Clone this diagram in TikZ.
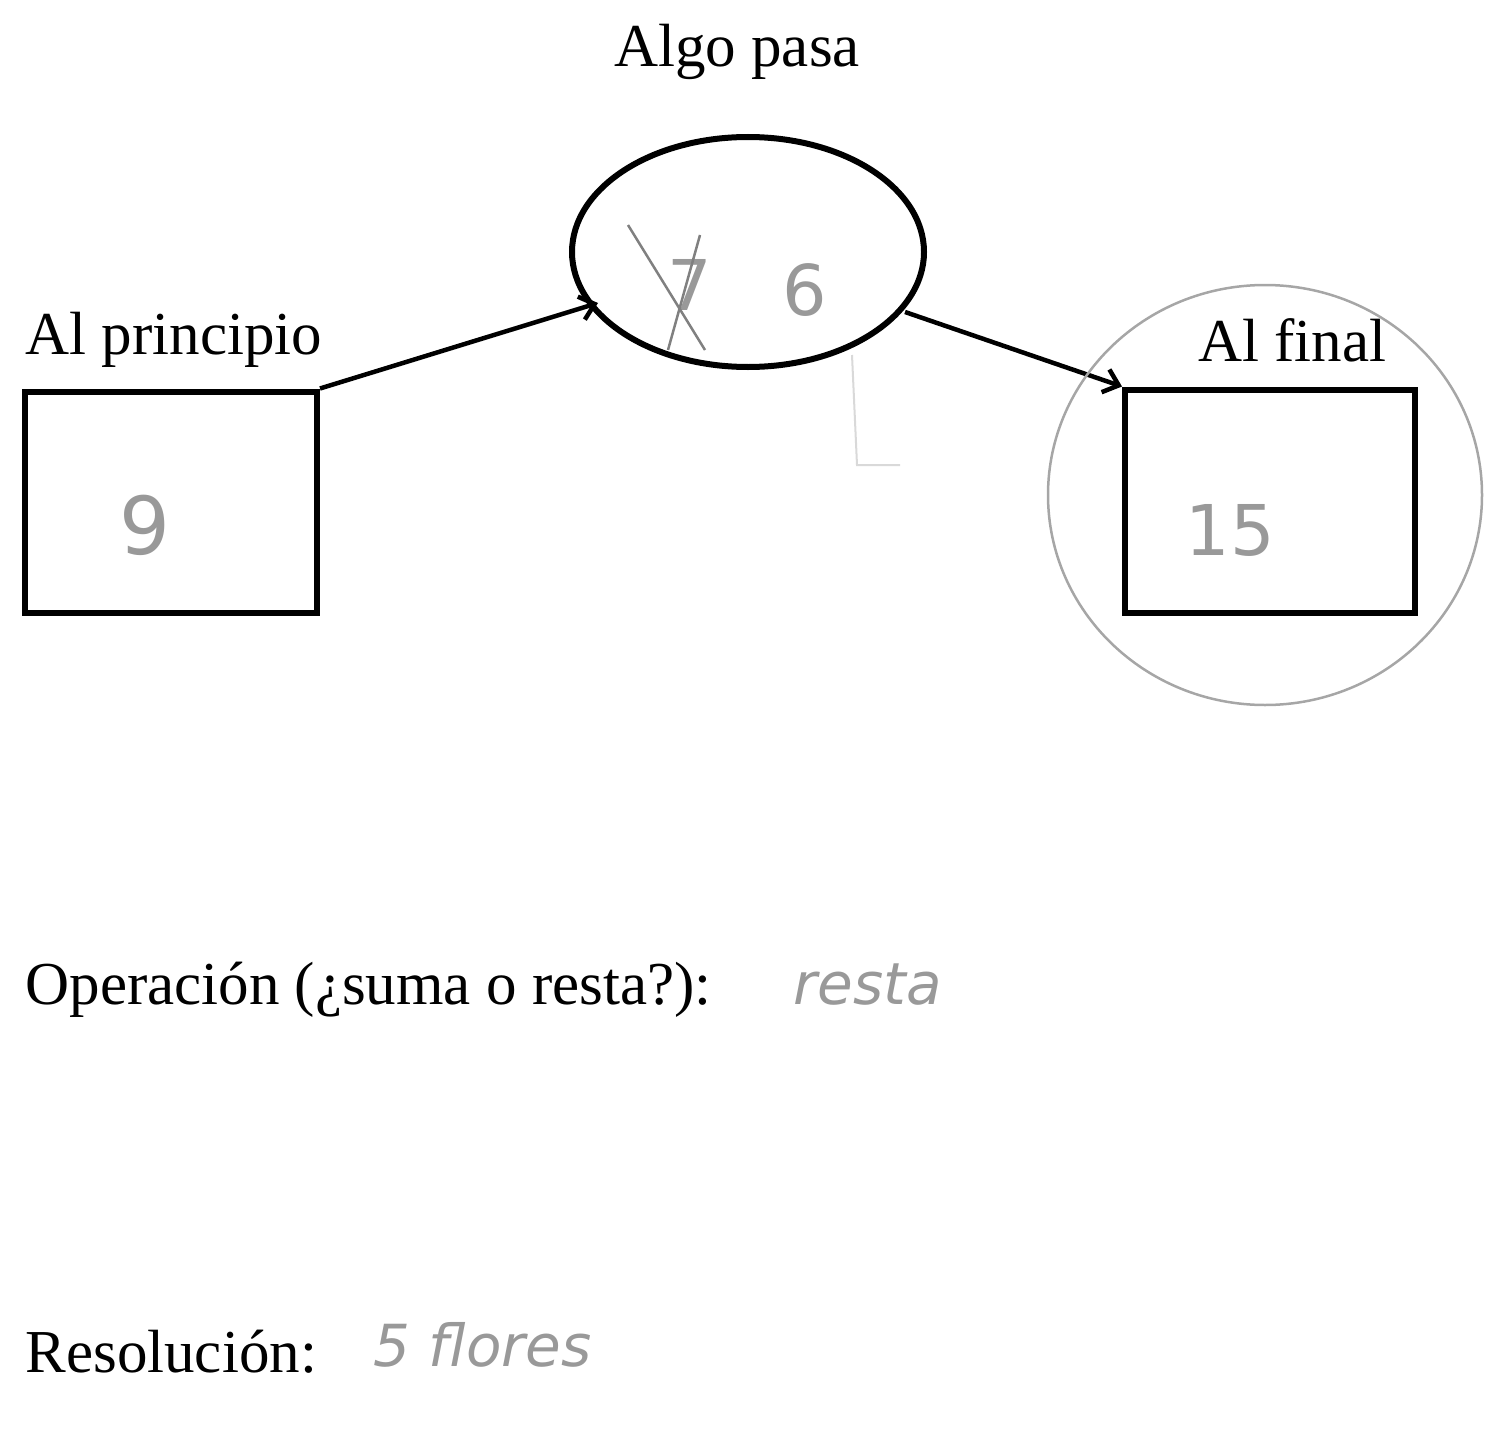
\documentclass[tikz,border=0pt]{standalone}
\usepackage{fontspec}
\setmainfont{Liberation Serif}
\newfontfamily\hand{DejaVu Sans}
\usetikzlibrary{arrows.meta}
\tikzset{
 box/.style={draw,line width=6pt},
 printed/.style={font=\fontsize{61}{66}\selectfont},
 pencil/.style={text=gray!80,font=\hand\fontsize{58}{64}\selectfont\itshape},
 conn/.style={line width=4.5pt,-{Straight Barb[length=14pt,width=24pt,line width=4.5pt]}},
}
\begin{document}
\begin{tikzpicture}[x=1pt,y=-1pt]
\useasboundingbox (0,0) rectangle (1501,1434);
\node[printed] (t1) at (737,52) {Algo pasa};
\draw[line width=6pt] (748,252) ellipse [x radius=176,y radius=115];
\coordinate (ell) at (748,252);
\node[box,minimum width=292pt,minimum height=221pt] (L) at (171,502) {};
\node[box,minimum width=290pt,minimum height=223pt] (R) at (1270,501) {};
\node[printed,anchor=west] (t2) at (22,340) {Al principio};
\node[printed] (t3) at (1292,340) {Al final};
\draw[conn] (L.north east) -- (598,303);
\draw[conn] (905,312) -- (R.north west);
\draw[gray!70,line width=2.5pt] (1265,495) ellipse [x radius=217,y radius=210];
\node[pencil,font=\hand\fontsize{80}{80}\selectfont] (n9) at (145,525) {9};
\node[pencil,font=\hand\fontsize{70}{70}\selectfont] (n15) at (1230,530) {15};
\node[pencil,font=\hand\fontsize{70}{70}\selectfont] (n7) at (690,285) {7};
\draw[gray,line width=2.5pt] (628,225) -- (705,350) (700,235) -- (668,350);
\node[pencil,font=\hand\fontsize{70}{70}\selectfont] (n6) at (805,290) {6};
\draw[gray!30,line width=2pt] (852,355) -- (857,465) -- (900,465);
\node[printed,anchor=west] (t4) at (22,990) {Operación (¿suma o resta?):};
\node[pencil,anchor=west] (r1) at (790,985) {resta};
\node[printed,anchor=west] (t5) at (22,1352) {Resolución:};
\node[pencil,anchor=west] (r2) at (370,1345) {5 flores};
\end{tikzpicture}
\end{document}
